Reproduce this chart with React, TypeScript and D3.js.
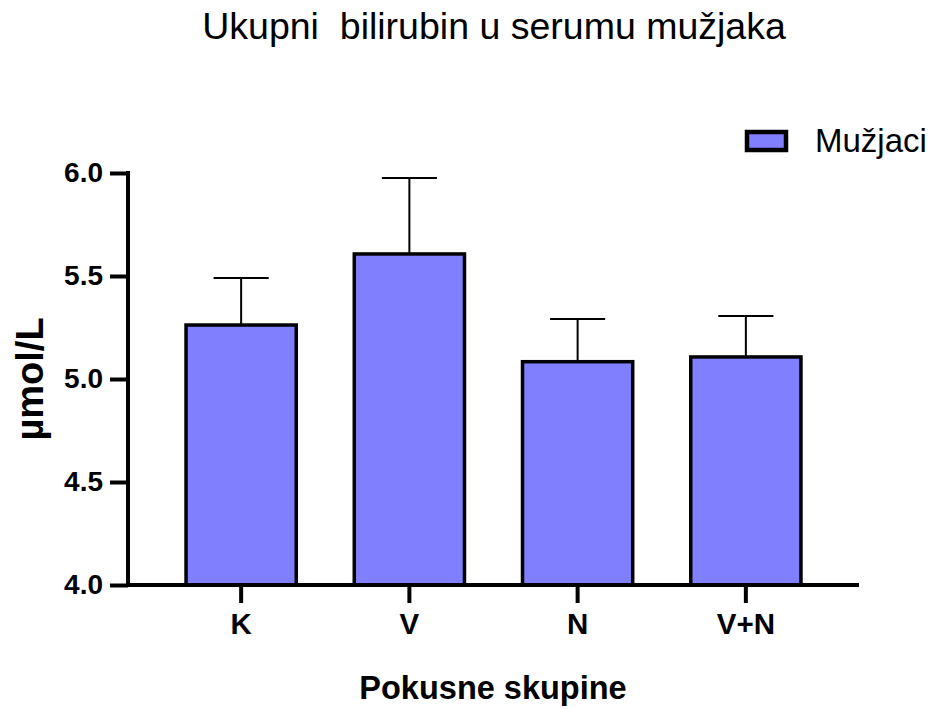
import React, { useRef, useEffect } from 'react';
import * as d3 from 'd3';

// Groups and values
const groups = ['K', 'V', 'N', 'V+N'];
const means = [5.262, 5.607, 5.084, 5.107];
const sems = [0.228, 0.369, 0.207, 0.199];
const yTicks = [4.0, 4.5, 5.0, 5.5, 6.0];

const W = 930;
const H = 709;
const FONT = 'Liberation Sans, Arial, Helvetica, sans-serif';

const App = () => {
    const svgRef = useRef<SVGSVGElement>(null);

    useEffect(() => {
        const svg = d3.select(svgRef.current);
        svg.selectAll('*').remove();

        const left = 128, right = 859, top = 173, bottom = 585;

        const x = d3.scaleBand<string>()
            .domain(groups)
            .range([left, right])
            .padding(0.345);

        const y = d3.scaleLinear()
            .domain([4, 6])
            .range([bottom, top]);

        const data = groups.map((g, i) => ({ g, mean: means[i], sem: sems[i] }));

        // error bars (upper only), drawn behind the bars
        const err = svg.append('g');
        data.forEach(d => {
            const cx = x(d.g)! + x.bandwidth() / 2;
            const capW = x.bandwidth() / 2;
            err.append('line')
                .attr('x1', cx).attr('x2', cx)
                .attr('y1', y(d.mean)).attr('y2', y(d.mean + d.sem))
                .attr('stroke', '#000').attr('stroke-width', 2);
            err.append('line')
                .attr('x1', cx - capW / 2).attr('x2', cx + capW / 2)
                .attr('y1', y(d.mean + d.sem)).attr('y2', y(d.mean + d.sem))
                .attr('stroke', '#000').attr('stroke-width', 2);
        });

        // bars
        svg.append('g')
            .selectAll('rect')
            .data(data)
            .enter()
            .append('rect')
            .attr('x', d => x(d.g)!)
            .attr('y', d => y(d.mean))
            .attr('width', x.bandwidth())
            .attr('height', d => y(4) - y(d.mean))
            .attr('fill', '#8080FF')
            .attr('stroke', '#000')
            .attr('stroke-width', 3.5);

        // Y axis
        const yAxis = svg.append('g')
            .attr('transform', `translate(${left},0)`)
            .call(d3.axisLeft(y).tickValues(yTicks).tickFormat(d3.format('.1f')).tickSize(18).tickPadding(7));
        yAxis.select('.domain').attr('stroke-width', 4).attr('d', `M0,${top - 2}V${bottom + 2}`);
        yAxis.selectAll('.tick line').attr('stroke-width', 4);
        yAxis.selectAll('text')
            .attr('font-family', FONT).attr('font-size', 28).attr('font-weight', 'bold')
            .attr('fill', '#000');

        // X axis
        const xAxis = svg.append('g')
            .attr('transform', `translate(0,${bottom})`)
            .call(d3.axisBottom(x).tickSize(18).tickPadding(10));
        xAxis.select('.domain').attr('stroke-width', 4).attr('d', `M${left - 2},0H${right}`);
        xAxis.selectAll('.tick line').attr('stroke-width', 4);
        xAxis.selectAll('text')
            .attr('font-family', FONT).attr('font-size', 29.5).attr('font-weight', 'bold')
            .attr('fill', '#000');

        // title
        svg.append('text')
            .attr('x', 494).attr('y', 39)
            .attr('text-anchor', 'middle')
            .attr('font-family', FONT).attr('font-size', 37.5)
            .attr('xml:space', 'preserve')
            .style('white-space', 'pre')
            .text('Ukupni  bilirubin u serumu mužjaka');

        // axis titles
        svg.append('text')
            .attr('x', 493).attr('y', 699)
            .attr('text-anchor', 'middle')
            .attr('font-family', FONT).attr('font-size', 32.5).attr('font-weight', 'bold')
            .text('Pokusne skupine');

        svg.append('text')
            .attr('transform', 'translate(43,379) rotate(-90)')
            .attr('text-anchor', 'middle')
            .attr('font-family', FONT).attr('font-size', 38).attr('font-weight', 'bold')
            .text('µmol/L');

        // legend
        svg.append('rect')
            .attr('x', 747).attr('y', 132)
            .attr('width', 39).attr('height', 18)
            .attr('fill', '#8080FF').attr('stroke', '#000').attr('stroke-width', 4.5);
        svg.append('text')
            .attr('x', 815).attr('y', 152)
            .attr('font-family', FONT).attr('font-size', 33)
            .text('Mužjaci');
    }, []);

    return (
        <svg ref={svgRef} width={W} height={H}
            style={{ position: 'absolute', left: 0, top: 0, background: '#fff' }}></svg>
    );
};

export default App;
